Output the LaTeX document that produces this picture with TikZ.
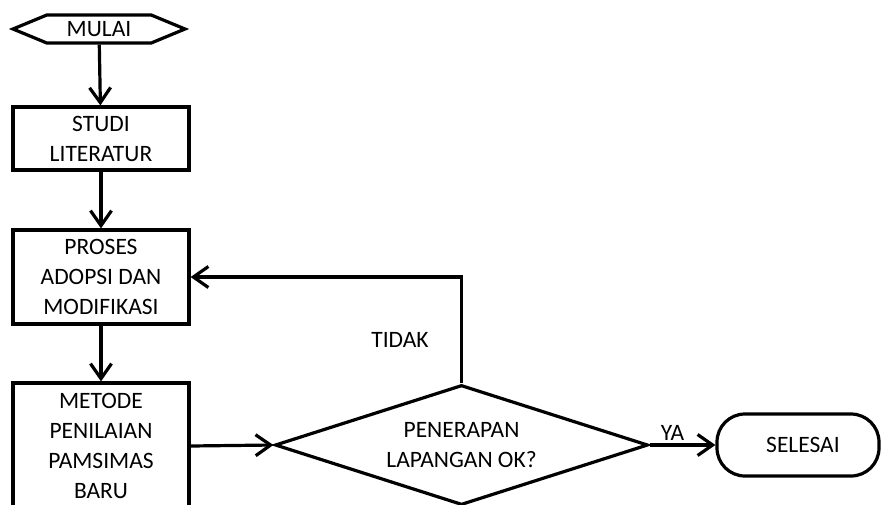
\documentclass[tikz,border=0pt]{standalone}
\usepackage{fontspec}
\setmainfont{Carlito}
\usetikzlibrary{arrows.meta,shapes.geometric,shapes.symbols}
\begin{document}
\begin{tikzpicture}[x=1pt, y=-1pt, line width=3.2pt,
    every node/.style={font=\fontsize{23.5}{30}\selectfont, align=center},
    box/.style={draw, rectangle, minimum width=176pt, inner sep=0pt},
    >={Straight Barb[length=15pt,width=21pt]}]
    \clip (0,0) rectangle (881,504);

    \node[draw, signal, signal to=west and east, signal pointer angle=45,
          minimum width=172pt, minimum height=28pt, inner sep=0pt] (mulai) at (99, 29) {MULAI};
    \node[box, minimum height=63pt]  (studi)  at (101, 138.5) {STUDI\\LITERATUR};
    \node[box, minimum height=94pt]  (proses) at (101, 277) {PROSES\\ADOPSI DAN\\MODIFIKASI};
    \node[box, minimum height=126pt] (metode) at (101, 446) {METODE\\PENILAIAN\\PAMSIMAS\\BARU};
    \node[draw, diamond, aspect=3.1, minimum width=373pt, minimum height=120pt,
          inner sep=0pt] (cek) at (461.5, 445) {PENERAPAN\\LAPANGAN OK?};
    \node[draw, rectangle, rounded corners=28pt, minimum width=162pt,
          minimum height=62pt] (selesai) at (798, 445) {\hspace*{10pt}SELESAI};
    \coordinate (belok) at (461.5, 277);
    \node (tidak) at (400, 340) {TIDAK};

    \draw[->] (mulai) -- (studi);
    \draw[->] (studi) -- (proses);
    \draw[->] (proses) -- (metode);
    \draw[->] (metode.east) -- (cek.west);
    \draw[->] (cek.north) -- (belok) -- (proses.east);
    \draw[->] (cek.east) -- node[above, pos=0.35] (ya) {YA} (selesai.west);

  \end{tikzpicture}
\end{document}
